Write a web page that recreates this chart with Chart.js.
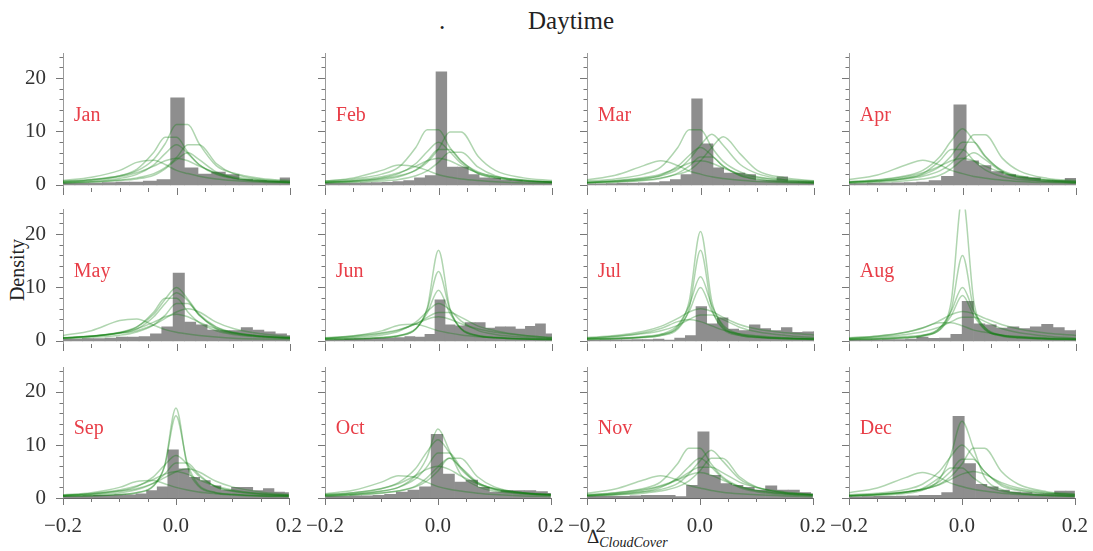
<!DOCTYPE html>
<html>
<head>
<meta charset="utf-8">
<script src="https://cdn.jsdelivr.net/npm/chart.js@4.4.1/dist/chart.umd.min.js"></script>
<style>
  body { margin: 0; background: #fff; }
  #wrap { position: relative; width: 1093px; height: 551px; overflow: hidden; font-family: 'Liberation Serif', 'DejaVu Serif', serif; color: #222; }
  #wrap canvas { position: absolute; }
  .txt { position: absolute; white-space: nowrap; line-height: 1; }
</style>
</head>
<body>
<div id="wrap">
  <div class="txt" style="left:439px;top:8px;font-size:25px;">.</div>
  <div class="txt" style="left:528px;top:8px;font-size:25px;">Daytime</div>
  <div class="txt" style="left:-18px;top:260px;font-size:20px;transform:rotate(-90deg);width:70px;text-align:center;">Density</div>
  <div class="txt" style="left:587px;top:527px;font-size:19px;">&Delta;<span style="font-style:italic;font-size:14px;position:relative;top:4px;">CloudCover</span></div>
</div>
<script>
// ---- data ----
const months = ['Jan', 'Feb', 'Mar', 'Apr', 'May', 'Jun', 'Jul', 'Aug', 'Sep', 'Oct', 'Nov', 'Dec'];

// histogram: left edge of first bin and bin width per month
const binStart = [-0.2031, -0.2134, -0.2036, -0.2115, -0.206, -0.2186, -0.2147, -0.2006, -0.2024, -0.218, -0.2038, -0.2159];
const binWidth = [0.0241, 0.019, 0.0188, 0.0218, 0.02, 0.0177, 0.0188, 0.02, 0.0188, 0.0206, 0.02, 0.02];

const histJan = [0.3, 0.3, 0.3, 0.4, 0.5, 0.5, 0.7, 1.0, 16.3, 3.2, 2.0, 2.4, 1.9, 1.0, 0.8, 0.7, 1.3];
const histFeb = [0.3, 0.3, 0.3, 0.3, 0.35, 0.4, 0.45, 0.6, 0.8, 1.3, 1.75, 21.2, 3.3, 3.3, 1.9, 1.3, 1.2, 0.9, 0.8, 0.6, 0.6, 0.6];
const histMar = [0.2, 0.2, 0.25, 0.3, 0.3, 0.35, 0.4, 0.6, 1.0, 1.9, 16.1, 7.7, 3.2, 2.2, 2.2, 1.9, 0.8, 0.8, 1.5, 0.6, 0.6, 0.6];
const histApr = [0.25, 0.25, 0.3, 0.3, 0.35, 0.4, 0.5, 0.8, 1.6, 15.0, 4.5, 3.6, 2.5, 1.9, 1.5, 1.3, 0.8, 0.8, 1.2];
const histMay = [0.3, 0.3, 0.4, 0.4, 0.5, 0.7, 0.7, 0.8, 1.3, 2.6, 12.7, 3.5, 3.0, 2.0, 1.9, 1.9, 2.5, 2.0, 1.7, 1.3, 1.0];
const histJun = [0.2, 0.2, 0.25, 0.3, 0.35, 0.4, 0.45, 0.5, 0.6, 0.8, 0.7, 1.2, 7.7, 3.0, 2.8, 3.4, 3.4, 2.4, 2.6, 2.6, 2.2, 2.7, 3.2, 1.3];
const histJul = [0.15, 0.15, 0.2, 0.2, 0.2, 0.25, 0.25, 0.3, 0.15, 0.5, 1.0, 6.4, 3.2, 4.3, 2.2, 1.9, 3.0, 2.3, 1.9, 2.5, 1.6, 1.7, 1.7];
const histAug = [0.2, 0.2, 0.2, 0.25, 0.25, 0.3, 0.7, 0.45, 0.5, 1.2, 7.4, 3.2, 3.0, 2.4, 2.6, 2.3, 2.6, 3.1, 2.5, 1.9, 2.0];
const histSep = [0.3, 0.3, 0.4, 0.5, 0.5, 0.6, 0.6, 0.8, 1.4, 2.1, 9.1, 5.5, 3.9, 3.3, 2.3, 1.5, 2.0, 2.0, 1.4, 1.8, 1.1, 1.0];
const histOct = [0.3, 0.3, 0.3, 0.4, 0.4, 0.5, 0.7, 1.1, 1.5, 2.1, 12.0, 4.5, 3.0, 3.4, 2.0, 1.1, 1.4, 1.4, 1.4, 1.2, 0.9];
const histNov = [0.3, 0.3, 0.3, 0.3, 0.4, 0.5, 0.5, 0.5, 0.25, 2.4, 12.5, 4.3, 2.7, 2.4, 2.0, 1.5, 2.3, 1.5, 1.5, 1.0, 0.8];
const histDec = [0.2, 0.2, 0.25, 0.3, 0.3, 0.35, 0.4, 0.5, 0.5, 1.0, 15.4, 6.5, 2.6, 2.1, 1.5, 1.1, 1.0, 0.8, 0.8, 1.3, 1.3];

// density curves, sampled at kdeX
const kdeX = [-0.2, -0.15, -0.1, -0.07, -0.04, -0.02, 0, 0.02, 0.04, 0.07, 0.1, 0.15, 0.2];

const kdeJan = [
  [0.66, 1.0, 1.7, 2.6, 4.8, 7.7, 11.3, 11.3, 7.7, 3.6, 2.2, 1.2, 0.8],
  [0.6, 0.95, 1.7, 2.9, 6.1, 8.9, 8.9, 6.1, 3.8, 2.1, 1.3, 0.8, 0.5],
  [0.45, 0.68, 1.2, 1.95, 3.75, 5.85, 7.5, 5.85, 3.75, 1.95, 1.2, 0.68, 0.45],
  [0.3, 0.5, 0.8, 1.1, 1.8, 3.0, 4.7, 6.0, 4.7, 2.4, 1.3, 0.65, 0.42],
  [0.8, 1.4, 2.7, 4.2, 4.6, 3.8, 2.7, 2.1, 1.6, 1.1, 0.8, 0.47, 0.33],
  [0.4, 0.56, 0.9, 1.3, 2.1, 3.2, 5.1, 7.5, 7.5, 4.0, 2.1, 1.0, 0.64],
  [0.5, 0.85, 1.5, 2.25, 3.5, 4.5, 5.0, 4.5, 3.5, 2.25, 1.5, 0.85, 0.5]
];
const kdeFeb = [
  [0.7, 1.1, 2.0, 3.3, 7.0, 10.3, 10.3, 7.0, 4.4, 2.4, 1.5, 0.9, 0.6],
  [0.5, 0.7, 1.2, 1.7, 2.7, 4.2, 6.7, 9.9, 9.9, 5.3, 2.7, 1.3, 0.8],
  [0.5, 0.7, 1.3, 2.1, 4.0, 6.2, 8.0, 6.2, 4.0, 2.1, 1.3, 0.7, 0.5],
  [0.4, 0.6, 1.0, 1.5, 2.8, 4.5, 6.6, 6.6, 4.5, 2.1, 1.3, 0.7, 0.45],
  [0.5, 0.85, 1.5, 2.25, 3.5, 4.5, 5.0, 4.5, 3.5, 2.25, 1.5, 0.85, 0.5],
  [0.7, 1.3, 2.7, 3.7, 3.4, 2.7, 1.9, 1.4, 1.1, 0.8, 0.57, 0.34, 0.27],
  [0.33, 0.46, 0.7, 1.0, 1.7, 2.6, 4.2, 6.1, 6.1, 3.3, 1.7, 0.8, 0.5]
];
const kdeMar = [
  [0.7, 1.1, 2.0, 3.3, 7.0, 10.3, 10.3, 7.0, 4.4, 2.4, 1.5, 0.9, 0.6],
  [0.48, 0.76, 1.2, 1.7, 2.9, 4.75, 7.4, 9.5, 7.4, 3.8, 2.1, 1.0, 0.67],
  [0.4, 0.6, 0.9, 1.3, 2.0, 2.7, 4.5, 7.0, 9.0, 5.8, 2.7, 1.3, 0.77],
  [0.42, 0.63, 1.1, 1.8, 3.5, 5.5, 7.0, 5.5, 3.5, 1.8, 1.1, 0.63, 0.42],
  [0.35, 0.5, 0.8, 1.2, 2.2, 3.5, 5.2, 5.2, 3.5, 1.7, 1.0, 0.55, 0.36],
  [0.95, 1.8, 3.6, 4.5, 3.6, 2.6, 2.0, 1.5, 1.2, 0.85, 0.63, 0.4, 0.27],
  [0.45, 0.77, 1.35, 2.0, 3.15, 4.05, 4.5, 4.05, 3.15, 2.0, 1.35, 0.77, 0.45]
];
const kdeApr = [
  [0.63, 0.95, 1.7, 2.7, 5.25, 8.2, 10.5, 8.2, 5.25, 2.7, 1.7, 0.95, 0.63],
  [0.5, 0.7, 1.1, 1.6, 2.6, 4.0, 6.4, 9.4, 9.4, 5.0, 2.6, 1.2, 0.8],
  [0.47, 0.72, 1.2, 1.9, 3.4, 5.4, 8.0, 8.0, 5.4, 2.55, 1.5, 0.85, 0.55],
  [0.45, 0.7, 1.26, 2.1, 4.5, 6.6, 6.6, 4.5, 2.8, 1.54, 0.98, 0.6, 0.39],
  [0.97, 1.85, 3.7, 4.6, 3.7, 2.7, 2.1, 1.55, 1.25, 0.87, 0.64, 0.41, 0.28],
  [0.3, 0.48, 0.78, 1.08, 1.8, 3.0, 4.7, 6.0, 4.7, 2.4, 1.3, 0.66, 0.42],
  [0.5, 0.85, 1.5, 2.25, 3.5, 4.5, 5.0, 4.5, 3.5, 2.25, 1.5, 0.85, 0.5]
];
const kdeMay = [
  [0.6, 0.9, 1.6, 2.6, 5.0, 7.8, 10.0, 7.8, 5.0, 2.6, 1.6, 0.9, 0.6],
  [0.55, 0.85, 1.5, 2.55, 5.4, 8.0, 8.0, 5.4, 3.4, 1.9, 1.2, 0.72, 0.47],
  [0.41, 0.64, 1.05, 1.65, 3.0, 4.8, 7.0, 7.0, 4.8, 2.25, 1.35, 0.75, 0.49],
  [0.48, 0.84, 1.45, 1.9, 3.0, 4.2, 5.4, 6.0, 5.4, 3.5, 2.3, 1.3, 0.72],
  [0.5, 0.85, 1.5, 2.25, 3.5, 4.5, 5.0, 4.5, 3.5, 2.25, 1.5, 0.85, 0.5],
  [1.0, 1.9, 3.8, 4.1, 2.9, 2.1, 1.6, 1.26, 1.0, 0.71, 0.5, 0.34, 0.25],
  [0.55, 0.85, 1.4, 2.2, 4.5, 7.0, 9.0, 7.5, 4.8, 2.5, 1.5, 0.85, 0.55]
];
const kdeJun = [
  [0.34, 0.43, 0.68, 1.0, 2.2, 6.1, 17.0, 6.1, 2.2, 1.0, 0.68, 0.43, 0.34],
  [0.29, 0.36, 0.59, 0.9, 2.2, 5.85, 13.0, 5.85, 2.2, 0.9, 0.59, 0.36, 0.29],
  [0.24, 0.33, 0.57, 0.95, 2.3, 5.2, 9.5, 5.2, 2.3, 0.95, 0.57, 0.33, 0.24],
  [0.42, 0.63, 1.1, 1.8, 3.5, 5.5, 7.0, 5.8, 3.7, 1.9, 1.2, 0.7, 0.45],
  [0.5, 0.9, 1.5, 2.1, 3.2, 4.4, 5.3, 5.3, 4.4, 2.75, 1.9, 1.05, 0.6],
  [0.45, 0.77, 1.35, 2.0, 3.15, 4.05, 4.5, 4.05, 3.2, 2.2, 1.6, 1.0, 0.6],
  [0.55, 0.96, 1.86, 2.9, 3.1, 2.56, 1.86, 1.44, 1.1, 0.77, 0.55, 0.32, 0.22]
];
const kdeJul = [
  [0.41, 0.51, 0.82, 1.23, 2.67, 7.4, 20.5, 7.4, 2.67, 1.23, 0.82, 0.51, 0.41],
  [0.34, 0.43, 0.68, 1.0, 2.2, 6.1, 17.0, 6.1, 2.2, 1.0, 0.68, 0.43, 0.34],
  [0.3, 0.42, 0.72, 1.2, 2.9, 6.6, 12.0, 6.6, 2.9, 1.2, 0.72, 0.42, 0.3],
  [0.25, 0.35, 0.6, 1.0, 2.4, 5.5, 10.0, 5.5, 2.4, 1.0, 0.6, 0.35, 0.25],
  [0.6, 1.0, 1.8, 2.7, 4.2, 5.4, 6.0, 5.5, 4.4, 3.0, 2.2, 1.5, 1.1],
  [0.45, 0.8, 1.35, 1.9, 2.9, 4.0, 4.85, 4.85, 4.0, 2.5, 1.7, 1.0, 0.6],
  [0.48, 0.84, 1.5, 2.3, 3.6, 4.0, 3.6, 2.8, 2.0, 1.3, 0.96, 0.56, 0.32]
];
const kdeAug = [
  [0.35, 0.54, 0.81, 1.08, 2.43, 7.3, 27.0, 7.3, 2.43, 1.08, 0.81, 0.54, 0.35],
  [0.32, 0.4, 0.64, 0.96, 2.1, 5.8, 16.0, 5.8, 2.1, 0.96, 0.64, 0.4, 0.32],
  [0.25, 0.35, 0.6, 1.0, 2.4, 5.5, 10.0, 5.5, 2.4, 1.0, 0.6, 0.35, 0.25],
  [0.21, 0.3, 0.51, 0.85, 2.04, 4.7, 8.5, 4.7, 2.04, 0.85, 0.51, 0.3, 0.21],
  [0.55, 0.9, 1.6, 2.4, 3.8, 4.9, 5.5, 5.1, 4.2, 3.0, 2.2, 1.4, 1.0],
  [0.4, 0.72, 1.2, 1.7, 2.6, 3.6, 4.4, 4.4, 3.6, 2.25, 1.5, 0.86, 0.5],
  [0.5, 0.84, 1.6, 2.45, 3.4, 3.4, 2.8, 2.0, 1.6, 1.05, 0.74, 0.42, 0.28]
];
const kdeSep = [
  [0.34, 0.43, 0.68, 1.0, 2.2, 6.1, 17.0, 6.1, 2.2, 1.0, 0.68, 0.43, 0.34],
  [0.33, 0.42, 0.66, 1.0, 2.3, 6.0, 15.5, 6.6, 2.5, 1.05, 0.7, 0.44, 0.34],
  [0.48, 0.72, 1.3, 2.1, 4.0, 6.2, 8.0, 6.4, 4.2, 2.2, 1.35, 0.75, 0.5],
  [0.39, 0.6, 0.98, 1.54, 2.8, 4.5, 6.6, 6.6, 4.5, 2.1, 1.26, 0.7, 0.46],
  [0.44, 0.77, 1.3, 1.76, 2.75, 3.85, 4.95, 5.5, 4.95, 3.2, 2.1, 1.15, 0.66],
  [0.5, 0.85, 1.5, 2.25, 3.5, 4.5, 5.0, 4.5, 3.5, 2.25, 1.5, 0.85, 0.5],
  [0.58, 1.0, 2.0, 3.1, 3.3, 2.7, 2.0, 1.5, 1.15, 0.82, 0.58, 0.34, 0.24]
];
const kdeOct = [
  [0.5, 0.75, 1.3, 2.0, 4.2, 7.5, 13.0, 9.0, 4.5, 2.2, 1.3, 0.75, 0.5],
  [0.66, 1.0, 1.76, 2.9, 5.5, 8.6, 11.0, 8.6, 5.5, 2.9, 1.76, 1.0, 0.66],
  [0.5, 0.77, 1.26, 2.0, 3.6, 5.8, 8.5, 8.5, 5.8, 2.7, 1.6, 0.9, 0.59],
  [0.38, 0.6, 0.98, 1.35, 2.25, 3.75, 5.85, 7.5, 5.85, 3.0, 1.65, 0.83, 0.53],
  [0.6, 1.0, 1.8, 2.7, 4.2, 5.4, 6.0, 5.4, 4.2, 2.7, 1.8, 1.0, 0.6],
  [0.82, 1.46, 3.0, 4.2, 3.9, 3.0, 2.15, 1.63, 1.3, 0.9, 0.65, 0.39, 0.3],
  [0.4, 0.56, 0.9, 1.3, 2.1, 3.2, 5.1, 7.5, 7.5, 4.0, 2.1, 1.0, 0.64]
];
const kdeNov = [
  [0.65, 1.0, 1.8, 3.0, 6.4, 9.4, 9.4, 6.4, 4.0, 2.2, 1.4, 0.85, 0.55],
  [0.45, 0.72, 1.17, 1.6, 2.7, 4.5, 7.0, 9.0, 7.0, 3.6, 2.0, 1.0, 0.63],
  [0.45, 0.68, 1.2, 1.95, 3.75, 5.85, 7.5, 5.85, 3.75, 1.95, 1.2, 0.68, 0.45],
  [0.54, 0.96, 1.6, 2.3, 3.5, 4.8, 5.8, 5.8, 4.8, 3.0, 2.0, 1.14, 0.66],
  [0.48, 0.82, 1.44, 2.16, 3.4, 4.3, 4.8, 4.3, 3.4, 2.16, 1.44, 0.82, 0.48],
  [0.88, 1.7, 3.4, 4.2, 3.4, 2.4, 1.9, 1.4, 1.1, 0.8, 0.59, 0.38, 0.25],
  [0.4, 0.56, 0.9, 1.3, 2.1, 3.2, 5.1, 7.5, 7.5, 4.0, 2.1, 1.0, 0.64]
];
const kdeDec = [
  [0.36, 0.5, 0.87, 1.45, 3.5, 8.0, 14.5, 9.5, 3.9, 1.6, 0.95, 0.55, 0.4],
  [0.6, 0.9, 1.6, 2.6, 5.0, 7.8, 10.0, 7.8, 5.0, 2.6, 1.6, 0.9, 0.6],
  [0.5, 0.7, 1.1, 1.6, 2.6, 4.0, 6.4, 9.4, 9.4, 5.0, 2.6, 1.2, 0.8],
  [0.43, 0.66, 1.1, 1.7, 3.1, 5.0, 7.3, 7.3, 5.0, 2.3, 1.4, 0.78, 0.5],
  [0.39, 0.6, 1.08, 1.8, 3.84, 5.64, 5.64, 3.84, 2.4, 1.32, 0.84, 0.51, 0.33],
  [1.0, 1.9, 3.84, 4.8, 3.84, 2.8, 2.16, 1.63, 1.3, 0.9, 0.67, 0.43, 0.29],
  [0.4, 0.7, 1.2, 1.6, 2.5, 3.5, 4.5, 5.0, 4.5, 2.9, 1.9, 1.05, 0.6]
];

const hists = [histJan, histFeb, histMar, histApr, histMay, histJun, histJul, histAug, histSep, histOct, histNov, histDec];
const kdes = [kdeJan, kdeFeb, kdeMar, kdeApr, kdeMay, kdeJun, kdeJul, kdeAug, kdeSep, kdeOct, kdeNov, kdeDec];

const xTicks = [-0.2, -0.15, -0.1, -0.05, 0, 0.05, 0.1, 0.15, 0.2];
const yTicks = [0, 2, 4, 6, 8, 10, 12, 14, 16, 18, 20, 22, 24];

// ---- layout ----
const SERIF = "'Liberation Serif', 'DejaVu Serif', serif";
const GRAY = '#8e8e8e';
const GREEN = 'rgba(10, 125, 10, 0.32)';
const RED = 'rgb(232, 62, 72)';
const Y_MAX = 24.6, PPU = 5.7, PLOT_W = 227;
const AX_W = 52, AX_H = 34, PAD_T = 12, PAD_R = 20;
const rows = [{ zero: 184, min: -0.6 }, { zero: 340.7, min: -0.6 }, { zero: 498, min: 0 }];

function near(a, b) { return Math.abs(a - b) < 1e-9; }
function xLabel(v) {
  if (near(v, -0.2)) return '\u22120.2';
  if (near(v, 0)) return '0.0';
  if (near(v, 0.2)) return '0.2';
  return '';
}

// small tick marks, major ones longer
const tickMarks = {
  id: 'tickMarks',
  afterDraw(chart) {
    const { ctx, chartArea: a, scales: { x, y } } = chart;
    ctx.save();
    ctx.strokeStyle = '#777';
    ctx.lineWidth = 1;
    ctx.beginPath();
    y.ticks.forEach(t => {
      const p = Math.round(y.getPixelForValue(t.value)) + 0.5;
      const len = t.value % 10 === 0 ? 7 : 3.5;
      ctx.moveTo(a.left, p); ctx.lineTo(a.left - len, p);
    });
    x.ticks.forEach(t => {
      const p = Math.round(x.getPixelForValue(t.value)) + 0.5;
      const len = xLabel(t.value) ? 7 : 4;
      ctx.moveTo(p, a.bottom); ctx.lineTo(p, a.bottom + len);
    });
    ctx.stroke();
    ctx.restore();
  }
};

const wrap = document.getElementById('wrap');

months.forEach((m, i) => {
  const col = i % 4, row = Math.floor(i / 4);
  const r = rows[row];
  const areaLeft = 63 + 262 * col;
  const areaTop = Math.round(r.zero - Y_MAX * PPU);
  const areaH = Math.round((Y_MAX - r.min) * PPU);

  const cv = document.createElement('canvas');
  cv.width = AX_W + PLOT_W + PAD_R;
  cv.height = PAD_T + areaH + AX_H;
  cv.style.left = (areaLeft - AX_W) + 'px';
  cv.style.top = (areaTop - PAD_T) + 'px';
  wrap.appendChild(cv);

  const bars = hists[i].map((h, k) => ({ x: binStart[i] + (k + 0.5) * binWidth[i], y: h }));
  const lines = kdes[i].map(curve => ({
    type: 'line',
    data: curve.map((v, k) => ({ x: kdeX[k], y: v })),
    borderColor: GREEN,
    borderWidth: 1.5,
    pointRadius: 0,
    fill: false,
    cubicInterpolationMode: 'monotone',
    order: 1
  }));

  const monthLabel = {
    id: 'monthLabel',
    afterDraw(chart) {
      const { ctx, scales: { x, y } } = chart;
      ctx.save();
      ctx.fillStyle = RED;
      ctx.font = '20px ' + SERIF;
      ctx.textBaseline = 'middle';
      ctx.fillText(m, x.getPixelForValue(-0.181), y.getPixelForValue(13));
      ctx.restore();
    }
  };

  new Chart(cv, {
    type: 'bar',
    data: {
      datasets: [{
        type: 'bar',
        data: bars,
        backgroundColor: GRAY,
        borderWidth: 0,
        barPercentage: 1,
        categoryPercentage: 1,
        clip: 0,
        order: 2
      }].concat(lines)
    },
    options: {
      responsive: false,
      animation: false,
      events: [],
      layout: { padding: { top: PAD_T, right: PAD_R, left: 0, bottom: 0 } },
      plugins: { legend: { display: false }, tooltip: { enabled: false } },
      scales: {
        x: {
          type: 'linear',
          min: -0.2,
          max: 0.2,
          offset: false,
          grid: { display: false },
          border: { display: row === 2, color: '#666', width: 1 },
          afterBuildTicks: s => { s.ticks = xTicks.map(v => ({ value: v })); },
          afterFit: s => { s.height = AX_H; },
          ticks: {
            autoSkip: false, maxRotation: 0, padding: 8, color: '#333',
            font: { family: SERIF, size: 21 },
            callback: v => (row === 2 ? xLabel(v) : '')
          }
        },
        y: {
          type: 'linear',
          min: r.min,
          max: Y_MAX,
          grid: { display: false },
          border: { display: true, color: '#9a9a9a', width: 1 },
          afterBuildTicks: s => { s.ticks = yTicks.map(v => ({ value: v })); },
          afterFit: s => { s.width = AX_W; },
          ticks: {
            autoSkip: false, padding: 9, color: '#333',
            font: { family: SERIF, size: 21 },
            callback: v => (col === 0 && v % 10 === 0 ? String(v) : '')
          }
        }
      }
    },
    plugins: [tickMarks, monthLabel]
  });
});
</script>
</body>
</html>
